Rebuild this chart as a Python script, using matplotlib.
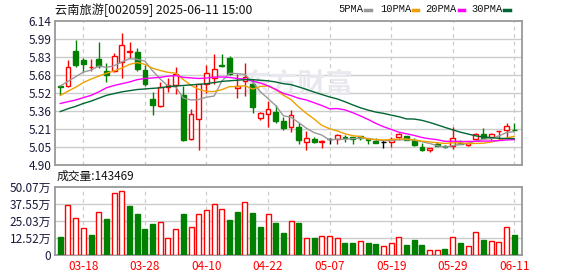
import numpy as np
import matplotlib
matplotlib.use("Agg")
import matplotlib.pyplot as plt
from matplotlib.lines import Line2D

plt.rcParams['font.family'] = ['Noto Sans CJK SC', 'DejaVu Sans']

# 交易日 (2025-03-13 .. 2025-06-11)
dates = ['03-13', '03-14', '03-17', '03-18', '03-19', '03-20', '03-21', '03-24', '03-25', '03-26',
         '03-27', '03-28', '03-31', '04-01', '04-02', '04-03', '04-07', '04-08', '04-09', '04-10',
         '04-11', '04-14', '04-15', '04-16', '04-17', '04-18', '04-21', '04-22', '04-23', '04-24',
         '04-25', '04-28', '04-29', '04-30', '05-06', '05-07', '05-08', '05-09', '05-12', '05-13',
         '05-14', '05-15', '05-16', '05-19', '05-20', '05-21', '05-22', '05-23', '05-26', '05-27',
         '05-28', '05-29', '05-30', '06-03', '06-04', '06-05', '06-06', '06-09', '06-10', '06-11']

opens = [5.58, 5.58, 5.88, 5.805, 5.74, 5.81, 5.71, 5.71, 5.79, 5.87,
         5.87, 5.72, 5.47, 5.41, 5.575, 5.59, 5.505, 5.125, 5.295, 5.60,
         5.65, 5.76, 5.82, 5.56, 5.62, 5.595, 5.305, 5.34, 5.355, 5.28,
         5.23, 5.225, 5.095, 5.125, 5.10, 5.12, 5.12, 5.145, 5.145, 5.15,
         5.125, 5.11, 5.095, 5.10, 5.145, 5.15, 5.115, 5.055, 5.03, 5.085,
         5.063, 5.065, 5.092, 5.072, 5.125, 5.17, 5.145, 5.19, 5.20, 5.205]
highs = [5.59, 5.80, 5.975, 5.825, 5.81, 5.955, 5.775, 5.865, 6.035, 5.955,
         5.905, 5.76, 5.525, 5.615, 5.645, 5.745, 5.58, 5.38, 5.60, 5.76,
         5.855, 5.86, 5.835, 5.68, 5.78, 5.64, 5.355, 5.45, 5.42, 5.315,
         5.375, 5.26, 5.195, 5.14, 5.115, 5.135, 5.165, 5.16, 5.145, 5.15,
         5.125, 5.13, 5.115, 5.145, 5.18, 5.15, 5.13, 5.09, 5.05, 5.10,
         5.072, 5.225, 5.112, 5.09, 5.18, 5.215, 5.18, 5.195, 5.265, 5.26]
lows = [5.50, 5.57, 5.745, 5.70, 5.71, 5.735, 5.615, 5.70, 5.645, 5.825,
        5.71, 5.58, 5.335, 5.40, 5.525, 5.51, 5.105, 5.115, 5.03, 5.52,
        5.60, 5.74, 5.675, 5.48, 5.49, 5.35, 5.29, 5.23, 5.265, 5.20,
        5.185, 5.085, 5.03, 5.09, 5.045, 5.08, 5.085, 5.10, 5.085, 5.115,
        5.085, 5.087, 5.05, 5.055, 5.115, 5.115, 5.065, 5.025, 5.01, 5.063,
        5.043, 5.035, 5.085, 5.064, 5.115, 5.125, 5.115, 5.115, 5.135, 5.20]
closes = [5.57, 5.74, 5.76, 5.77, 5.745, 5.75, 5.675, 5.835, 5.93, 5.885,
          5.725, 5.595, 5.42, 5.575, 5.59, 5.68, 5.115, 5.34, 5.595, 5.69,
          5.73, 5.755, 5.68, 5.58, 5.655, 5.40, 5.345, 5.38, 5.28, 5.215,
          5.335, 5.115, 5.135, 5.095, 5.11, 5.12, 5.155, 5.13, 5.12, 5.13,
          5.115, 5.09, 5.095, 5.125, 5.165, 5.115, 5.07, 5.03, 5.05, 5.065,
          5.055, 5.135, 5.085, 5.09, 5.165, 5.135, 5.165, 5.195, 5.24, 5.20]

# 成交量 (万手)
volumes = [13.0, 36.3, 26.7, 19.4, 14.5, 31.2, 26.3, 45.2, 46.6, 35.8,
           29.9, 18.9, 22.6, 23.8, 12.0, 18.7, 29.9, 20.4, 29.7, 32.6,
           37.1, 33.4, 25.5, 31.4, 38.5, 30.7, 20.6, 29.7, 23.3, 16.0,
           24.5, 23.3, 12.0, 12.3, 13.5, 13.5, 12.0, 8.6, 8.6, 9.8,
           8.6, 7.9, 6.4, 8.3, 12.8, 7.1, 10.8, 7.1, 3.2, 3.2,
           4.2, 12.8, 8.6, 6.1, 16.4, 10.8, 9.8, 9.1, 20.4, 14.3469]

# 均线
ma5 = [5.58, 5.62, 5.66, 5.70, 5.717, 5.753, 5.74, 5.755, 5.787, 5.815,
       5.81, 5.794, 5.711, 5.64, 5.581, 5.572, 5.476, 5.46, 5.464, 5.484,
       5.494, 5.622, 5.69, 5.687, 5.68, 5.614, 5.532, 5.472, 5.412, 5.324,
       5.311, 5.265, 5.216, 5.179, 5.158, 5.115, 5.123, 5.122, 5.127, 5.131,
       5.13, 5.117, 5.11, 5.111, 5.118, 5.118, 5.114, 5.101, 5.086, 5.066,
       5.054, 5.067, 5.078, 5.086, 5.106, 5.122, 5.128, 5.15, 5.18, 5.187]
ma10 = [5.50, 5.535, 5.57, 5.61, 5.64, 5.665, 5.69, 5.71, 5.735, 5.766,
        5.782, 5.767, 5.733, 5.714, 5.698, 5.691, 5.635, 5.586, 5.552, 5.533,
        5.533, 5.549, 5.575, 5.576, 5.582, 5.554, 5.577, 5.581, 5.55, 5.502,
        5.463, 5.399, 5.344, 5.296, 5.241, 5.213, 5.194, 5.169, 5.153, 5.145,
        5.123, 5.12, 5.116, 5.119, 5.125, 5.124, 5.116, 5.106, 5.099, 5.092,
        5.086, 5.091, 5.09, 5.086, 5.086, 5.088, 5.098, 5.114, 5.133, 5.147]
ma20 = [5.43, 5.445, 5.46, 5.48, 5.50, 5.53, 5.565, 5.585, 5.60, 5.615,
        5.635, 5.645, 5.65, 5.655, 5.665, 5.67, 5.655, 5.65, 5.645, 5.649,
        5.657, 5.658, 5.654, 5.645, 5.64, 5.623, 5.606, 5.583, 5.551, 5.517,
        5.498, 5.474, 5.46, 5.436, 5.412, 5.384, 5.386, 5.375, 5.351, 5.323,
        5.293, 5.259, 5.23, 5.207, 5.183, 5.169, 5.155, 5.137, 5.126, 5.118,
        5.104, 5.105, 5.103, 5.103, 5.105, 5.106, 5.107, 5.11, 5.116, 5.119]
ma30 = [5.36, 5.385, 5.405, 5.43, 5.45, 5.475, 5.50, 5.515, 5.53, 5.54,
        5.55, 5.555, 5.56, 5.565, 5.575, 5.58, 5.585, 5.59, 5.595, 5.60,
        5.61, 5.62, 5.625, 5.63, 5.635, 5.635, 5.63, 5.625, 5.615, 5.60,
        5.592, 5.572, 5.551, 5.528, 5.507, 5.486, 5.469, 5.445, 5.418, 5.393,
        5.373, 5.356, 5.345, 5.33, 5.316, 5.297, 5.296, 5.285, 5.267, 5.246,
        5.224, 5.203, 5.183, 5.167, 5.151, 5.142, 5.136, 5.13, 5.128, 5.128]

price_ticks = ['4.90', '5.05', '5.21', '5.36', '5.52', '5.68', '5.83', '5.99', '6.14']
vol_ticks = ['0', '12.52万', '25.03万', '37.55万', '50.07万']

RED = '#ff0000'
GREEN = '#008000'
GRID = '#cccccc'
BORDER = '#999999'


def style_axes(ax, n):
    for s in ax.spines.values():
        s.set_color(BORDER)
        s.set_linewidth(1.3)
    ax.set_xlim(-0.62, n - 0.0)
    ax.tick_params(length=0, labelsize=8.5, colors='#1a1a3a', pad=3)
    for i in range(3, n, 8):
        ax.axvline(i, color=GRID, lw=0.9, ls=(0, (3, 3)), zorder=0)


def main():
    n = len(closes)
    x = np.arange(n)
    o = np.array(opens)
    c = np.array(closes)
    h = np.array(highs)
    l = np.array(lows)

    fig = plt.figure(figsize=(5.78, 2.76), dpi=100)
    ax = fig.add_axes([0.096, 0.402, 0.807, 0.522])
    axv = fig.add_axes([0.096, 0.077, 0.807, 0.247])

    # 价格区
    style_axes(ax, n)
    lo, hi = float(price_ticks[0]), float(price_ticks[-1])
    ax.set_ylim(lo, hi)
    yt = np.linspace(lo, hi, len(price_ticks))
    ax.set_yticks(yt)
    ax.set_yticklabels(price_ticks)
    ax.set_xticks([])
    for v in yt[1:-1]:
        ax.axhline(v, color=GRID, lw=1.0, zorder=0)

    ax.text(0.52, 0.56, '东方财富', transform=ax.transAxes, ha='center', va='center',
            fontsize=20, color='#e8e8ee', fontweight='bold', zorder=0)

    cols = np.where(c > o, RED, np.where(c < o, GREEN, 'black'))
    ax.vlines(x, l, h, colors=cols, lw=1.0, zorder=2)
    body = np.maximum(np.abs(c - o), 0.0015)
    face = np.where(c > o, 'white', cols)
    ax.bar(x, body, bottom=np.minimum(o, c), width=0.62, color=face,
           edgecolor=cols, linewidth=1.0, zorder=3)

    ax.plot(x, ma5, color='#999999', lw=1.0, zorder=4)
    ax.plot(x, ma10, color='#f0a000', lw=1.0, zorder=4)
    ax.plot(x, ma20, color='#ff00ff', lw=1.0, zorder=4)
    ax.plot(x, ma30, color='#006633', lw=1.0, zorder=4)

    # 成交量区
    style_axes(axv, n)
    vmax = float(vol_ticks[-1].rstrip('万'))
    axv.set_ylim(0, vmax)
    vt = np.linspace(0, vmax, len(vol_ticks))
    axv.set_yticks(vt)
    axv.set_yticklabels(vol_ticks)
    for v in vt[1:-1]:
        axv.axhline(v, color=GRID, lw=1.0, zorder=0)
    prev = np.concatenate([[o[0]], c[:-1]])
    up = c > prev
    axv.bar(x, volumes, width=0.65, color=np.where(up, 'white', GREEN),
            edgecolor=np.where(up, RED, GREEN), linewidth=1.0, zorder=3)
    tick_idx = list(range(3, n, 8))
    axv.set_xticks(tick_idx)
    axv.set_xticklabels([dates[i] for i in tick_idx], color=RED, fontsize=8.5)
    axv.tick_params(axis='x', pad=4, colors=RED)

    # 标题和图例
    fig.text(0.095, 0.962, '云南旅游[002059] 2025-06-11 15:00', fontsize=8.8,
             va='center', ha='left', color='#111111')
    fig.text(0.097, 0.362, '成交量:143469', fontsize=8.5, va='center', ha='left', color='#111111')

    # (文字起点, 色块起点, 色块终点) 像素
    legend = [('5PMA', '#999999', 338, 365, 371), ('10PMA', '#f0a000', 380, 413, 418),
              ('20PMA', '#ff00ff', 425, 459, 464), ('30PMA', '#006633', 471, 504, 510)]
    W = 578.0
    for label, col, tx, d0, d1 in legend:
        fig.text(tx / W, 0.966, label, fontsize=7.5, va='center', ha='left',
                 family='Liberation Mono', color='#111111')
        fig.add_artist(Line2D([d0 / W, d1 / W], [0.962, 0.962],
                              color=col, lw=2.5, transform=fig.transFigure))

    fig.savefig('out.png', dpi=100)


if __name__ == "__main__":
    main()
